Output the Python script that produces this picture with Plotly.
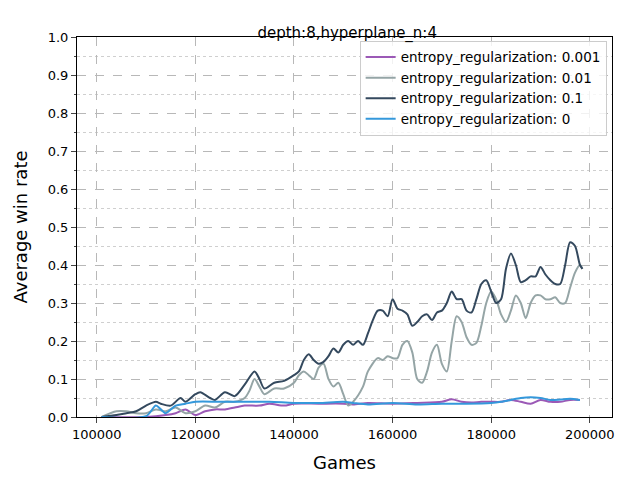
import plotly.graph_objects as go

# values (x in thousands of games)
x_01 = [101, 104, 106, 108, 110, 112, 113, 115, 117, 118, 120, 121, 123, 124, 126, 128, 130, 132, 133, 134,
        136, 138, 140, 141, 142, 143, 144, 145, 146, 147, 148, 149, 150, 151, 152, 153, 154, 155, 156, 157,
        158, 159, 160, 161, 162, 163, 164, 165, 166, 167, 168, 169, 170, 171, 172, 173, 174, 175, 176, 177,
        178, 179, 180, 181, 182, 183, 184, 185, 186, 187, 188, 189, 190, 191, 192, 193, 194, 195, 196, 197,
        198, 198.5]
y_01 = [0, 0.005, 0.01, 0.015, 0.03, 0.04, 0.035, 0.03, 0.05, 0.04, 0.06, 0.065, 0.05, 0.045, 0.065, 0.055,
        0.085, 0.12, 0.1, 0.075, 0.09, 0.095, 0.11, 0.12, 0.15, 0.165, 0.15, 0.14, 0.145, 0.16, 0.18, 0.17,
        0.19, 0.2, 0.19, 0.2, 0.19, 0.22, 0.255, 0.28, 0.28, 0.265, 0.31, 0.285, 0.28, 0.27, 0.24, 0.25,
        0.265, 0.27, 0.255, 0.275, 0.28, 0.3, 0.33, 0.31, 0.31, 0.28, 0.275, 0.31, 0.35, 0.36, 0.33, 0.3,
        0.31, 0.39, 0.43, 0.4, 0.355, 0.36, 0.37, 0.37, 0.395, 0.375, 0.36, 0.35, 0.35, 0.4, 0.46, 0.45,
        0.4, 0.39]

x_001 = [101, 104, 106, 108, 110, 112, 114, 116, 118, 120, 122, 124, 126, 128, 130, 131, 132, 133, 134, 136,
         138, 140, 141, 142, 143, 144, 145, 146, 147, 148, 149, 150, 151, 152, 154, 155, 157, 158, 159, 160,
         161, 162, 163, 164, 165, 166, 167, 168, 169, 170, 171, 172, 173, 174, 175, 176, 177, 178, 179, 180,
         181, 182, 183, 184, 185, 186, 187, 188, 189, 190, 191, 192, 193, 194, 195, 196, 197, 198, 198.5]
y_001 = [0, 0.015, 0.015, 0.01, 0.01, 0.02, 0.015, 0.025, 0.01, 0.015, 0.03, 0.025, 0.04, 0.04, 0.05, 0.07,
         0.1, 0.08, 0.06, 0.075, 0.075, 0.09, 0.11, 0.12, 0.11, 0.1, 0.13, 0.14, 0.1, 0.08, 0.09, 0.06, 0.03,
         0.04, 0.08, 0.12, 0.155, 0.15, 0.16, 0.155, 0.155, 0.19, 0.2, 0.17, 0.1, 0.09, 0.12, 0.17, 0.19,
         0.14, 0.12, 0.2, 0.265, 0.25, 0.21, 0.19, 0.195, 0.24, 0.3, 0.33, 0.31, 0.27, 0.25, 0.28, 0.32, 0.3,
         0.26, 0.3, 0.32, 0.32, 0.31, 0.31, 0.315, 0.3, 0.3, 0.34, 0.38, 0.4, 0.39]

x_0 = [101, 110, 112, 113, 114, 116, 118, 120, 125, 130, 135, 140, 145, 150, 152, 155, 160, 165, 170, 175,
       180, 182, 184, 186, 188, 190, 192, 194, 196, 198]
y_0 = [0, 0.002, 0.03, 0.02, 0.01, 0.03, 0.035, 0.04, 0.04, 0.04, 0.04, 0.037, 0.037, 0.04, 0.037, 0.033,
       0.037, 0.033, 0.035, 0.035, 0.037, 0.04, 0.045, 0.05, 0.052, 0.05, 0.045, 0.046, 0.048, 0.045]

x_0001 = [101, 110, 114, 116, 118, 120, 122, 124, 126, 128, 130, 133, 135, 138, 140, 145, 150, 152, 155, 160,
          165, 170, 172, 174, 176, 178, 180, 182, 184, 186, 188, 190, 192, 194, 196, 198]
y_0001 = [0, 0, 0.005, 0.01, 0.02, 0.005, 0.015, 0.02, 0.02, 0.025, 0.03, 0.03, 0.035, 0.03, 0.035, 0.035,
          0.035, 0.033, 0.037, 0.035, 0.037, 0.04, 0.047, 0.04, 0.038, 0.04, 0.04, 0.04, 0.045, 0.04, 0.035,
          0.045, 0.04, 0.04, 0.045, 0.045]

series = [
    ("entropy_regularization: 0.001", x_0001, y_0001, "#9b59b6"),
    ("entropy_regularization: 0.01", x_001, y_001, "#95a5a6"),
    ("entropy_regularization: 0.1", x_01, y_01, "#34495e"),
    ("entropy_regularization: 0", x_0, y_0, "#3498db"),
]

fig = go.Figure()
for name, xs, ys, col in series:
    fig.add_trace(go.Scatter(
        x=[v * 1000 for v in xs], y=ys, name=name, mode="lines",
        line=dict(color=col, width=2, shape="spline", smoothing=0.8),
    ))

fig.update_layout(
    width=640, height=480,
    paper_bgcolor="white", plot_bgcolor="white",
    margin=dict(l=62, r=36, t=29, b=71),
    font=dict(family="DejaVu Sans", size=13, color="black"),
    title=dict(text="depth:8,hyperplane_n:4", x=0.53, xanchor="center", y=0.96, font=dict(size=15)),
    legend=dict(x=0.99, y=0.99, xanchor="right", yanchor="top", bgcolor="rgba(255,255,255,0.8)",
                bordercolor="#cccccc", borderwidth=1, font=dict(size=13.5), tracegroupgap=0),
    xaxis=dict(
        title=dict(text="Games", font=dict(size=18)), range=[96000, 204500],
        tickvals=[100000, 120000, 140000, 160000, 180000, 200000], tickformat="d",
        showgrid=True, gridcolor="#b8b8b8", griddash="dash", gridwidth=1,
        showline=True, linecolor="black", mirror=True, ticks="outside", zeroline=False,
    ),
    yaxis=dict(
        title=dict(text="Average win rate", font=dict(size=18)), range=[0, 1.0],
        dtick=0.1, tickformat=".1f",
        showgrid=True, gridcolor="#b8b8b8", griddash="dash", gridwidth=1,
        minor=dict(dtick=0.05, showgrid=True, gridcolor="#cfcfcf", griddash="dot", ticks="outside", ticklen=2),
        showline=True, linecolor="black", mirror=True, ticks="outside", zeroline=False,
    ),
)

fig.write_html("out.html")
